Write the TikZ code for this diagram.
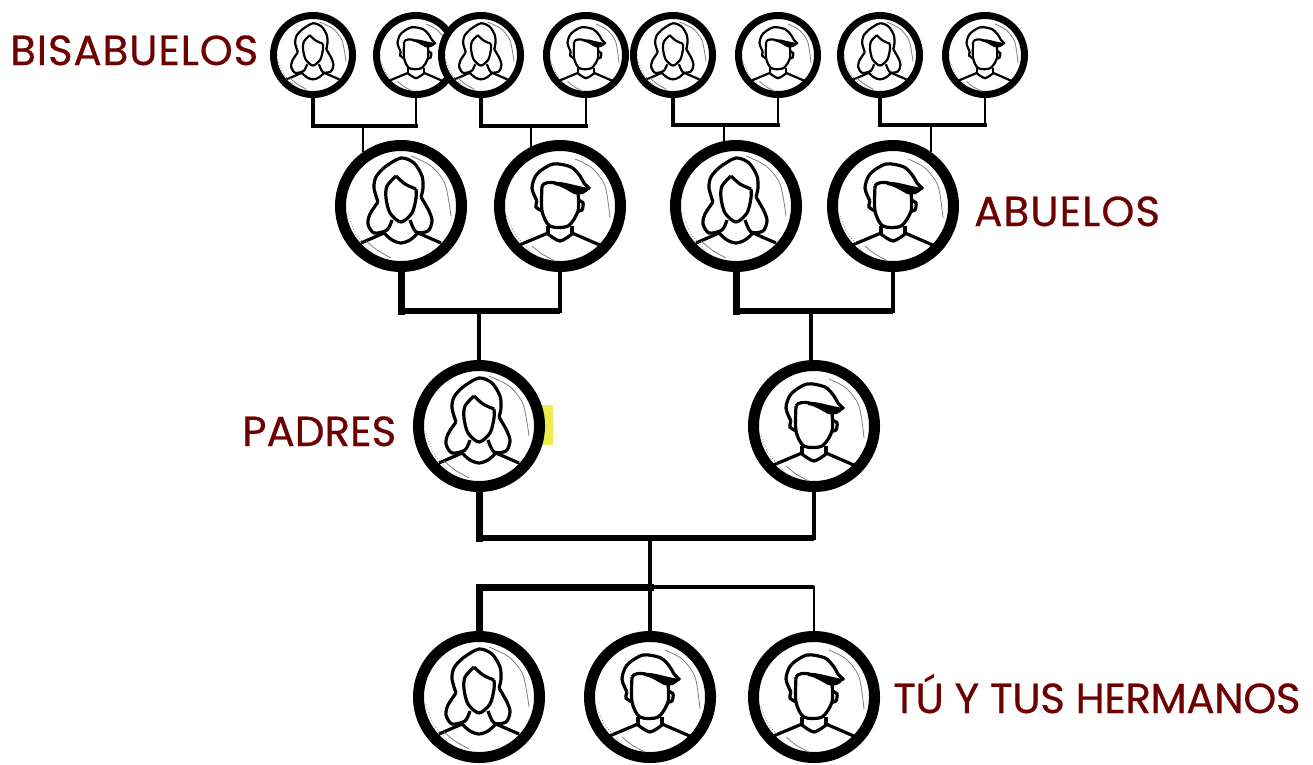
\documentclass[tikz,border=0pt]{standalone}
\usepackage{fontspec}
\setmainfont{Poppins}
\usepackage{xcolor}
\definecolor{granate}{HTML}{6E0000}
\definecolor{mancha}{HTML}{ECEC50}
\tikzset{
  persona/.style={circle,draw=black,fill=white,inner sep=0pt},
  grande/.style={persona,line width=11pt,minimum size=121pt},
  chico/.style={persona,line width=7pt,minimum size=79pt},
  etiqueta/.style={text=granate,anchor=base west,inner sep=0pt,font=\fontsize{42}{42}\selectfont},
  icono grande/.style={line width=3.2pt},
  icono chico/.style={line width=2.2pt,scale=0.66},
  gruesa/.style={line width=7pt,line cap=rect},
  barra/.style={line width=5.5pt},
  media/.style={line width=4pt},
  delgada/.style={line width=3.3pt},
  fina/.style={line width=2.8pt},
  pics/mujer/.style={code={
    % hair
    \draw plot[smooth] coordinates {(-23,-4) (-27,-18) (-25,-29) (-16,-39) (0,-48) (13,-43) (21,-30) (22,-18) (20,-9)};
    \draw plot[smooth] coordinates {(-23,-4) (-31,8) (-33,18) (-27,27) (-14,24) (-9,14)};
    \draw plot[smooth] coordinates {(20,-9) (28,5) (31,15) (27,25) (15,26) (9,14)};
    % face
    \draw plot[smooth] coordinates {(-5,-30) (-14,-20) (-15,-8) (-11,7) (0,16) (11,7) (15,-8) (15,-17)};
    \draw plot[smooth] coordinates {(-5,-30) (4,-22) (15,-17)};
    % shoulders and neck
    \draw (-40,37) -- (-17,27);
    \draw (40,37) -- (17,27);
    \draw plot[smooth] coordinates {(-17,27) (-9,34) (0,37) (9,34) (17,27)};
    % shine
    \draw[gray,line width=0.8pt] plot[smooth] coordinates {(10,-50) (30,-40) (44,-22) (50,10)};
    \draw[gray,line width=0.8pt,dotted] plot[smooth] coordinates {(-53,7) (-45,28) (-30,45)};
    \draw[gray,line width=0.8pt] plot[smooth] coordinates {(-35,35) (-24,44) (-10,52)};
  }},
  pics/hombre/.style={code={
    % hair
    \draw plot[smooth] coordinates {(-23,-5) (-28,-18) (-23,-32) (-7,-42) (11,-39) (20,-30) (24,-23) (30,-17)};
    \draw (-18,-20) .. controls (-16,-24) and (-10,-24) .. (-4,-23);
    \fill (-6,-24) .. controls (4,-25) and (14,-20) .. (30,-18) .. controls (26,-12) and (20,-10) .. (14,-12) .. controls (8,-15) and (2,-20) .. (-6,-21) -- cycle;
    % face
    \draw plot[smooth] coordinates {(-18,-20) (-18,5) (-10,20) (8,20) (18,5) (18,-13)};
    \draw plot[smooth] coordinates {(-23,-5) (-24,1) (-18,5)};
    \draw plot[smooth] coordinates {(18,-6) (23,-3) (22,4) (18,5)};
    % neck and shoulders
    \draw (-12,20) -- (-12,28);
    \draw (12,20) -- (12,28);
    \draw plot[smooth] coordinates {(-12,28) (0,35) (12,28)};
    \draw (-43,40) -- (-12,27);
    \draw (42,40) -- (12,27);
    % shine
    \draw[gray,line width=0.8pt] plot[smooth] coordinates {(15,-47) (32,-38) (45,-20) (50,12)};
    \draw[gray,line width=0.8pt,dotted] plot[smooth] coordinates {(-53,10) (-45,28) (-30,45)};
    \draw[gray,line width=0.8pt] plot[smooth] coordinates {(-28,40) (-18,48) (-5,55)};
  }},
}

\begin{document}
\begin{tikzpicture}[x=1pt,y=-1pt]
  \useasboundingbox (0,0) rectangle (1313,764);
  \fill[white] (0,0) rectangle (1313,764);

  % Yellow mark beside the mother
  \fill[mancha] (540,405) rectangle (553,445);

  % Great-grandparents
  \node[chico] (b1) at (313,55) {};
  \pic[icono chico] at (b1) {mujer};
  \node[chico] (b2) at (416,55) {};
  \pic[icono chico] at (b2) {hombre};
  \node[chico] (b3) at (481,55) {};
  \pic[icono chico] at (b3) {mujer};
  \node[chico] (b4) at (586,55) {};
  \pic[icono chico] at (b4) {hombre};
  \node[chico] (b5) at (673,55) {};
  \pic[icono chico] at (b5) {mujer};
  \node[chico] (b6) at (778,55) {};
  \pic[icono chico] at (b6) {hombre};
  \node[chico] (b7) at (880,55) {};
  \pic[icono chico] at (b7) {mujer};
  \node[chico] (b8) at (985,55) {};
  \pic[icono chico] at (b8) {hombre};

  % Grandparents
  \node[grande] (a1) at (401,206) {};
  \pic[icono grande] at (a1) {mujer};
  \node[grande] (a2) at (560,206) {};
  \pic[icono grande] at (a2) {hombre};
  \node[grande] (a3) at (736,206) {};
  \pic[icono grande] at (a3) {mujer};
  \node[grande] (a4) at (893,206) {};
  \pic[icono grande] at (a4) {hombre};

  % Parents
  \node[grande] (p1) at (479,426) {};
  \pic[icono grande] at (p1) {mujer};
  \node[grande] (p2) at (814,426) {};
  \pic[icono grande] at (p2) {hombre};

  % Children
  \node[grande] (h1) at (479,697) {};
  \pic[icono grande] at (h1) {mujer};
  \node[grande] (h2) at (650,697) {};
  \pic[icono grande] at (h2) {hombre};
  \node[grande] (h3) at (814,697) {};
  \pic[icono grande] at (h3) {hombre};

  % Labels
  \node[etiqueta] (lblB) at (10,65) {\addfontfeature{FakeBold=0.5,LetterSpace=2}BISABUELOS};
  \node[etiqueta] (lblA) at (974,226) {\addfontfeature{FakeBold=0.5,LetterSpace=2.4}ABUELOS};
  \node[etiqueta] (lblP) at (242,446) {\addfontfeature{FakeBold=0.5}PADRES};
  \node[etiqueta] (lblH) at (893,713) {\addfontfeature{FakeBold=0.5,LetterSpace=-1}TÚ Y TUS HERMANOS};

  % Joints of the connectors
  \coordinate (j1) at (363,126);
  \coordinate (j2) at (531,126);
  \coordinate (j3) at (724,125);
  \coordinate (j4) at (931,125);
  \coordinate (j5) at (479,311);
  \coordinate (j6) at (811,311);
  \coordinate (j7) at (650,538);
  \coordinate (j8) at (650,587);

  % Top rows
  \draw[media,line cap=rect] (b1.south) -- (b1.south |- j1) -- (b2.south |- j1);
  \draw[fina,line cap=rect] (b2.south) -- (b2.south |- j1);
  \draw[fina] (j1) -- (j1 |- a1.125);
  \draw[media,line cap=rect] (b3.south) -- (b3.south |- j2) -- (b4.south |- j2);
  \draw[fina,line cap=rect] (b4.south) -- (b4.south |- j2);
  \draw[fina] (j2) -- (j2 |- a2.116);
  \draw[media,line cap=rect] (b5.south) -- (b5.south |- j3) -- (b6.south |- j3);
  \draw[fina,line cap=rect] (b6.south) -- (b6.south |- j3);
  \draw[fina] (j3) -- (j3 |- a3.100);
  \draw[media,line cap=rect] (b7.south) -- (b7.south |- j4) -- (b8.south |- j4);
  \draw[fina,line cap=rect] (b8.south) -- (b8.south |- j4);
  \draw[fina] (j4) -- (j4 |- a4.55);

  % Grandparents to parents
  \draw[gruesa] (a1.south) -- (a1.south |- j5);
  \draw[barra] (a1.south |- j5) -- (a2.south |- j5);
  \draw[media,line cap=rect] (a2.south) -- (a2.south |- j5);
  \draw[media] (j5) -- (j5 |- p1.north);
  \draw[gruesa] (a3.south) -- (a3.south |- j6);
  \draw[barra] (a3.south |- j6) -- (a4.south |- j6);
  \draw[media,line cap=rect] (a4.south) -- (a4.south |- j6);
  \draw[media] (j6) -- (j6 |- p2.north);

  % Parents to children
  \draw[gruesa] (p1.south) -- (p1.south |- j7);
  \draw[barra] (p1.south |- j7) -- (p2.south |- j7);
  \draw[delgada,line cap=rect] (p2.south) -- (p2.south |- j7);
  \draw[media] (j7) -- (j8);
  \draw[gruesa] (h1.north) -- (h1.north |- j8) -- (j8);
  \draw[barra,line width=4.5pt] (j8) -- (h3.north |- j8);
  \draw[fina,line cap=rect] (h3.north) -- (h3.north |- j8);
  \draw[media] (j8) -- (h2.north);
\end{tikzpicture}
\end{document}
